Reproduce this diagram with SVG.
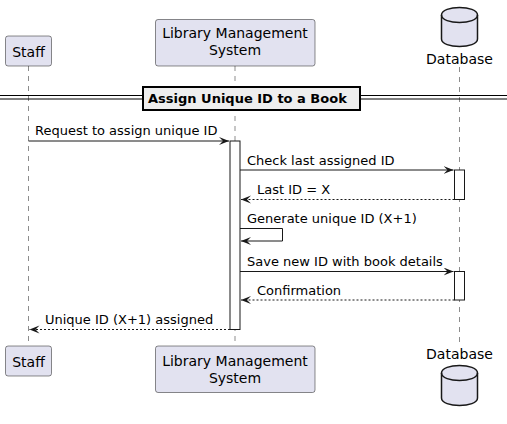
<svg xmlns="http://www.w3.org/2000/svg" width="507" height="424" viewBox="0 0 507 424">
<style>
.p{fill:#E2E2F0;stroke:#181818;stroke-width:0.5}
.t{font-family:"DejaVu Sans",sans-serif;font-size:14px;fill:#000}
.m{font-family:"DejaVu Sans",sans-serif;font-size:13px;fill:#000}
.life{stroke:#181818;stroke-width:0.5;stroke-dasharray:5,5;fill:none}
.act{fill:#FFFFFF;stroke:#181818;stroke-width:1}
.line{stroke:#181818;stroke-width:1;fill:none}
.dash{stroke:#181818;stroke-width:1;stroke-dasharray:2,2;fill:none}
.db{fill:#E2E2F0;stroke:#181818;stroke-width:1.5}
</style>
<defs>
<marker id="ah" markerWidth="12" markerHeight="10" refX="10" refY="4" orient="auto" markerUnits="userSpaceOnUse">
<polygon points="0,0 10,4 0,8 4,4" fill="#181818"/>
</marker>
</defs>
<g id="lifelines">
<line class="life" x1="28.5" y1="66" x2="28.5" y2="346"/>
<line class="life" x1="235" y1="66" x2="235" y2="346"/>
<line class="life" x1="459.5" y1="67" x2="459.5" y2="346"/>
</g>
<g id="staff-top">
<rect class="p" x="5.5" y="36" width="46" height="30" rx="2.5"/>
<text class="t" x="28.5" y="56.5" text-anchor="middle">Staff</text>
</g>
<g id="lms-top">
<rect class="p" x="155.5" y="19.5" width="159.5" height="46.5" rx="2.5"/>
<text class="t" x="235" y="38" text-anchor="middle">Library Management</text>
<text class="t" x="235" y="55" text-anchor="middle">System</text>
</g>
<g id="db-top">
<path class="db" d="M441.5,15 C441.5,5 477.5,5 477.5,15 L477.5,39 C477.5,49 441.5,49 441.5,39 Z"/>
<path class="db" fill="none" d="M441.5,15 C441.5,25 477.5,25 477.5,15" style="fill:none"/>
<text class="t" x="459.5" y="64" text-anchor="middle">Database</text>
</g>
<g id="divider">
<line x1="0" y1="95.5" x2="507" y2="95.5" stroke="#000" stroke-width="1"/>
<line x1="0" y1="99" x2="507" y2="99" stroke="#000" stroke-width="1"/>
<rect x="143" y="87" width="217" height="23" fill="#EEEEEE" stroke="#000" stroke-width="2"/>
<text x="148" y="103" font-family="'DejaVu Sans',sans-serif" font-size="13" font-weight="bold">Assign Unique ID to a Book</text>
</g>
<g id="activations">
<rect class="act" x="230" y="141" width="10" height="188.5"/>
<rect class="act" x="454.5" y="170" width="10" height="29.5"/>
<rect class="act" x="454.5" y="271.5" width="10" height="28.5"/>
</g>
<g id="connectors">
<line class="line" x1="28.5" y1="141" x2="229" y2="141" marker-end="url(#ah)"/>
<line class="line" x1="240" y1="170" x2="453.5" y2="170" marker-end="url(#ah)"/>
<line class="dash" x1="454.5" y1="199.5" x2="241" y2="199.5" marker-end="url(#ah)"/>
<polyline class="line" points="240,228.5 282.5,228.5 282.5,241 241,241" marker-end="url(#ah)"/>
<line class="line" x1="240" y1="271.5" x2="453.5" y2="271.5" marker-end="url(#ah)"/>
<line class="dash" x1="454.5" y1="300" x2="241" y2="300" marker-end="url(#ah)"/>
<line class="dash" x1="230" y1="329.5" x2="29.5" y2="329.5" marker-end="url(#ah)"/>
</g>
<g id="labels">
<text class="m" x="35" y="135">Request to assign unique ID</text>
<text class="m" x="247" y="164.5">Check last assigned ID</text>
<text class="m" x="257" y="194">Last ID = X</text>
<text class="m" x="247" y="223">Generate unique ID (X+1)</text>
<text class="m" x="247" y="265.5">Save new ID with book details</text>
<text class="m" x="257" y="294.5">Confirmation</text>
<text class="m" x="45" y="324">Unique ID (X+1) assigned</text>
</g>
<g id="staff-bottom">
<rect class="p" x="5.5" y="346" width="46" height="30" rx="2.5"/>
<text class="t" x="28.5" y="366.5" text-anchor="middle">Staff</text>
</g>
<g id="lms-bottom">
<rect class="p" x="155.5" y="346" width="159.5" height="46.5" rx="2.5"/>
<text class="t" x="235" y="366" text-anchor="middle">Library Management</text>
<text class="t" x="235" y="383" text-anchor="middle">System</text>
</g>
<g id="db-bottom">
<text class="t" x="459.5" y="358.5" text-anchor="middle">Database</text>
<path class="db" d="M441.5,373 C441.5,363 477.5,363 477.5,373 L477.5,398 C477.5,408 441.5,408 441.5,398 Z"/>
<path class="db" d="M441.5,373 C441.5,383 477.5,383 477.5,373" style="fill:none"/>
</g>
</svg>
